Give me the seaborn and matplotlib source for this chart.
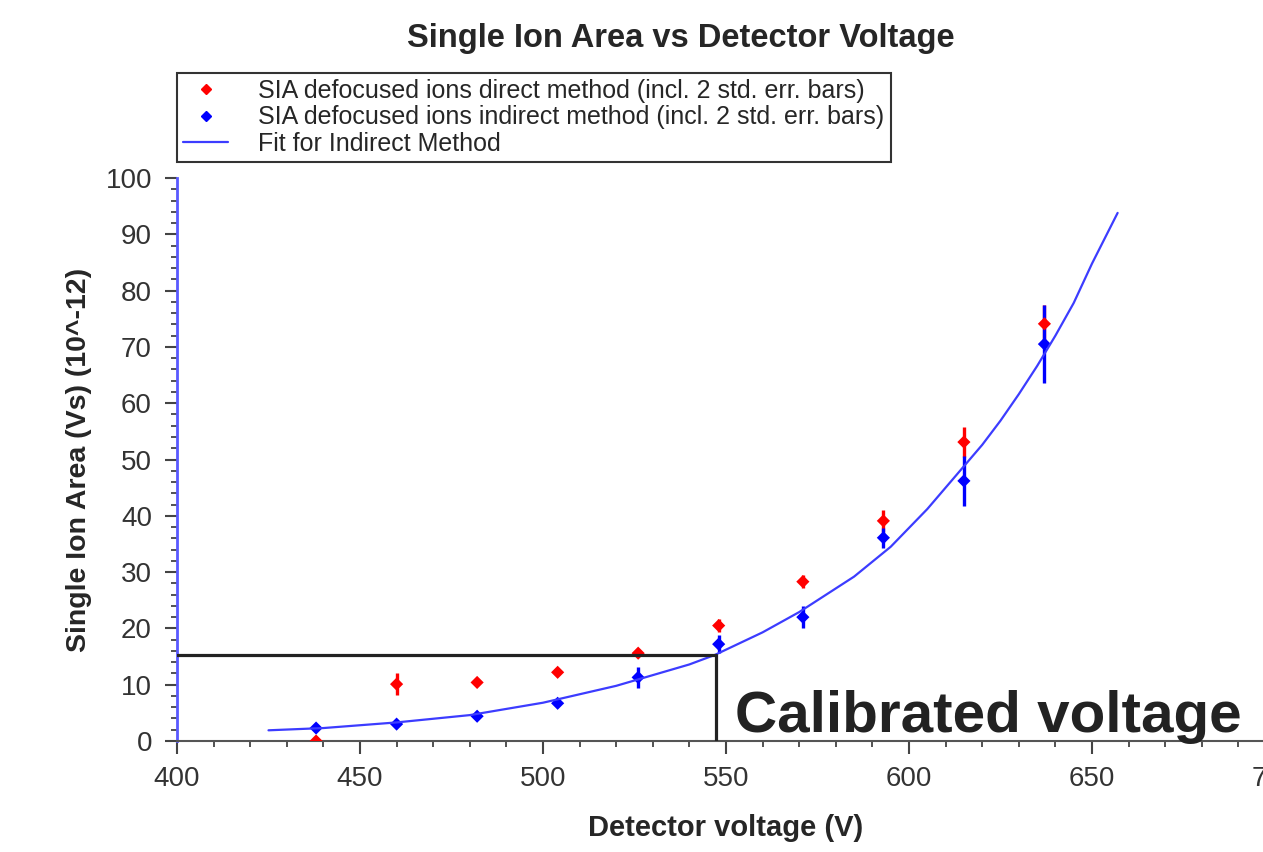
import matplotlib
matplotlib.use("Agg")
import matplotlib.pyplot as plt
import seaborn as sns
import pandas as pd
import numpy as np
from matplotlib.lines import Line2D

# valores
tensao = [438, 460, 482, 504, 526, 548, 571, 593, 615, 637]

sia_direto = [0.0, 10.1, 10.4, 12.2, 15.6, 20.5, 28.3, 39.1, 53.1, 74.1]
erro_direto = [0.0, 1.9, 0.4, 0.4, 0.4, 1.1, 1.1, 1.9, 2.6, 3.3]

sia_indireto = [2.3, 3.0, 4.4, 6.7, 11.3, 17.2, 22.0, 36.1, 46.2, 70.5]
erro_indireto = [0.3, 0.3, 0.4, 0.4, 1.9, 1.6, 2.0, 1.8, 4.4, 7.0]

# curva do ajuste (metodo indireto), lida ponto a ponto
fit_x = [425, 440, 460, 480, 500, 520, 540, 547, 560, 570, 585, 595, 605, 615,
         620, 625, 630, 635, 640, 645, 650, 657]
fit_y = [1.9, 2.3, 3.3, 4.6, 6.8, 9.8, 13.6, 15.3, 19.3, 22.9, 29.2, 34.5, 41.2, 48.8,
         52.6, 56.9, 61.6, 66.6, 72.0, 77.8, 84.8, 93.8]

tensao_calibrada = 547.2
sia_calibrada = 15.3

rotulos = [
    'SIA defocused ions direct method (incl. 2 std. err. bars)',
    'SIA defocused ions indirect method (incl. 2 std. err. bars)',
    'Fit for Indirect Method',
]

df = pd.DataFrame({
    'tensao': tensao + tensao,
    'sia': sia_direto + sia_indireto,
    'erro': erro_direto + erro_indireto,
    'metodo': ['direto'] * len(tensao) + ['indireto'] * len(tensao),
})
df_fit = pd.DataFrame({'tensao': fit_x, 'sia': fit_y})

sns.set_theme(style='white')
plt.rcParams['font.family'] = ['Liberation Sans', 'DejaVu Sans']

fig = plt.figure(figsize=(12.63, 8.52), dpi=100)
ax = fig.add_axes([177 / 1263, (852 - 741) / 852, (1275 - 177) / 1263, (741 - 178) / 852])

cores = {'direto': '#ff0000', 'indireto': '#0000ff'}
for metodo in ['direto', 'indireto']:
    sub = df[df.metodo == metodo]
    ax.errorbar(sub.tensao, sub.sia, yerr=sub.erro, fmt='none',
                ecolor=cores[metodo], elinewidth=2.4, capsize=0, zorder=2)
    sns.scatterplot(data=sub, x='tensao', y='sia', marker='D', s=45,
                    color=cores[metodo], edgecolor='none', ax=ax, zorder=3)

sns.lineplot(data=df_fit, x='tensao', y='sia', color='#3c3cff', linewidth=1.6, ax=ax, zorder=4)

# linhas de calibracao
ax.plot([400, tensao_calibrada], [sia_calibrada, sia_calibrada], color='#222222', lw=2.3, zorder=5)
ax.plot([tensao_calibrada, tensao_calibrada], [0, sia_calibrada], color='#222222', lw=2.3, zorder=5)

ax.set_xlim(400, 700)
ax.set_ylim(0, 100)
ax.set_xticks(np.arange(400, 701, 50))
ax.set_xticks(np.arange(400, 701, 10), minor=True)
ax.set_yticks(np.arange(0, 101, 10))
ax.set_yticks(np.arange(0, 101, 2), minor=True)

for lado in ['top', 'right']:
    ax.spines[lado].set_visible(False)
ax.spines['left'].set_color('#5a5aff')
ax.spines['left'].set_linewidth(2)
ax.spines['bottom'].set_color('#555555')
ax.spines['bottom'].set_linewidth(1.5)

ax.tick_params(axis='both', which='major', direction='out', length=9, width=1.5,
               color='#444444', labelsize=20, labelcolor='#333333', pad=9,
               bottom=True, left=True)
ax.tick_params(axis='both', which='minor', direction='out', length=4.5, width=1.3,
               color='#444444', bottom=True, left=True)

ax.set_xlabel('Detector voltage (V)', fontsize=21, fontweight='bold', labelpad=16)
ax.set_ylabel('Single Ion Area (Vs) (10^-12)', fontsize=20.5, fontweight='bold', labelpad=10)

fig.text(681 / 1263, (852 - 38) / 852, 'Single Ion Area vs Detector Voltage',
         ha='center', va='center', fontsize=23.5, fontweight='bold')

handles = [
    Line2D([], [], marker='D', color='#ff0000', linestyle='none', markersize=5),
    Line2D([], [], marker='D', color='#0000ff', linestyle='none', markersize=5),
    Line2D([], [], color='#3c3cff', linewidth=1.6),
]
leg = ax.legend(handles, rotulos, loc='lower left', bbox_to_anchor=(0.0, 1.028),
                borderaxespad=0, frameon=True, fancybox=False, fontsize=18,
                handlelength=1.8, handletextpad=1.2, labelspacing=0.1,
                borderpad=0.25, framealpha=1)
leg.get_frame().set_edgecolor('#333333')
leg.get_frame().set_linewidth(1.5)

fig.text(735 / 1263, (852 - 732) / 852, 'Calibrated voltage', ha='left', va='baseline',
         fontsize=42, fontweight='bold', color='#222222')

fig.savefig('out.png', dpi=100)
